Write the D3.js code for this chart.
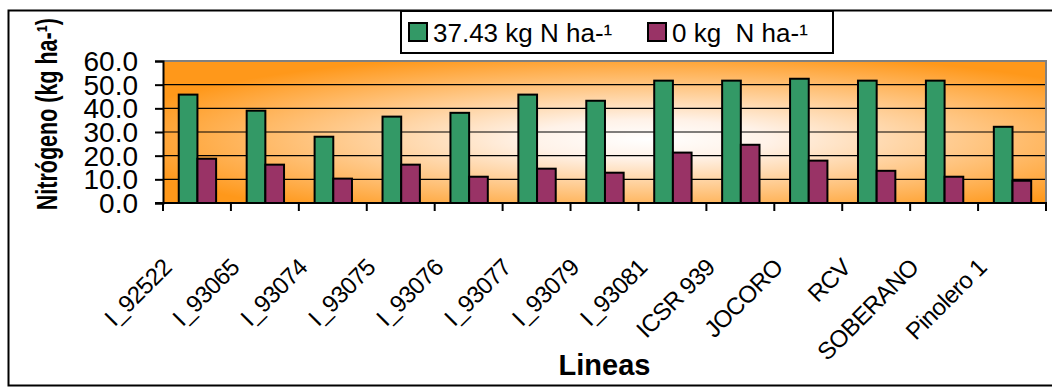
<!DOCTYPE html>
<html>
<head>
<meta charset="utf-8">
<script src="https://cdn.jsdelivr.net/npm/d3@7"></script>
<style>
  body { margin: 0; background: #fff; }
  svg { font-family: "Liberation Sans", Arial, sans-serif; }
</style>
</head>
<body>
<script>
const categories = ["I_92522", "I_93065", "I_93074", "I_93075", "I_93076", "I_93077", "I_93079",
  "I_93081", "ICSR 939", "JOCORO", "RCV", "SOBERANO", "Pinolero 1"];
const seriesNames = ["37.43 kg N ha-¹", "0 kg  N ha-¹"];
const withN = [45.8, 39.0, 28.0, 36.5, 38.1, 45.8, 43.2, 51.7, 51.7, 52.5, 51.7, 51.7, 32.2];
const withoutN = [18.7, 16.2, 10.3, 16.2, 11.1, 14.5, 12.8, 21.3, 24.6, 17.9, 13.6, 11.1, 9.4];
const yTicks = [0, 10, 20, 30, 40, 50, 60];
const colors = ["#339966", "#993366"];

const width = 1052, height = 387;
const plotL = 163, plotR = 1046, plotT = 61, plotB = 203;

const svg = d3.select("body").append("svg").attr("width", width).attr("height", height);

// chart border
svg.append("rect")
  .attr("x", 8.5).attr("y", 10.5).attr("width", 1060).attr("height", 375)
  .attr("fill", "#fff").attr("stroke", "#000").attr("stroke-width", 2);

const x = d3.scaleBand().domain(categories).range([plotL, plotR]);
const bw = x.bandwidth();
const xs = d3.scaleBand().domain([0, 1]).range([bw * 0.232, bw * 0.782]);
const y = d3.scaleLinear().domain([0, 60]).range([plotB, plotT]);

// gradient background
const defs = svg.append("defs");
const grad = defs.append("radialGradient").attr("id", "bg")
  .attr("cx", 0.55).attr("cy", 0.55).attr("r", 0.62);
grad.append("stop").attr("offset", "0%").attr("stop-color", "#ffffff");
grad.append("stop").attr("offset", "22%").attr("stop-color", "#fff2e8");
grad.append("stop").attr("offset", "100%").attr("stop-color", "#ff981a");

svg.append("rect")
  .attr("x", plotL).attr("y", plotT).attr("width", plotR - plotL).attr("height", plotB - plotT)
  .attr("fill", "url(#bg)");

// gridlines
svg.append("g").selectAll("line").data(yTicks.filter(d => d > 0 && d < 60)).join("line")
  .attr("x1", plotL).attr("x2", plotR)
  .attr("y1", d => y(d)).attr("y2", d => y(d))
  .attr("stroke", "#000").attr("stroke-width", 1.2);

// plot border top / right
svg.append("path")
  .attr("d", `M${plotL},${y(60)}H${plotR}V${plotB}`)
  .attr("fill", "none").attr("stroke", "#808080").attr("stroke-width", 2);

// bars
const data = categories.map((c, i) => ({ c, v: [withN[i], withoutN[i]] }));
const groups = svg.append("g").selectAll("g").data(data).join("g")
  .attr("transform", d => `translate(${x(d.c)},0)`);
groups.selectAll("rect").data(d => d.v.map((v, k) => ({ v, k }))).join("rect")
  .attr("x", d => xs(d.k)).attr("width", xs.bandwidth())
  .attr("y", d => y(d.v)).attr("height", d => y(0) - y(d.v))
  .attr("fill", d => colors[d.k]).attr("stroke", "#000").attr("stroke-width", 2);

// y axis
const yAxis = svg.append("g").attr("transform", `translate(${plotL},0)`)
  .call(d3.axisLeft(y).tickValues(yTicks).tickFormat(d3.format(".1f")).tickSize(8).tickPadding(17));
yAxis.select(".domain").attr("stroke-width", 2);
yAxis.selectAll(".tick line").attr("stroke-width", 2);
yAxis.selectAll("text").attr("font-size", 28).attr("fill", "#000").attr("dy", "0.34em")
  .attr("font-family", "Liberation Sans, Arial, sans-serif");

// x axis
svg.append("line").attr("x1", plotL - 8).attr("x2", plotR + 1)
  .attr("y1", plotB).attr("y2", plotB).attr("stroke", "#000").attr("stroke-width", 2);
svg.append("g").selectAll("line").data(categories.map(c => x(c)).concat([plotR])).join("line")
  .attr("x1", d => d).attr("x2", d => d)
  .attr("y1", plotB).attr("y2", plotB + 8)
  .attr("stroke", "#000").attr("stroke-width", 2);

svg.append("g").selectAll("text").data(categories).join("text")
  .attr("transform", d => `translate(${x(d) + bw / 2 - 24},${plotB + 66}) rotate(-45)`)
  .attr("text-anchor", "end")
  .attr("font-size", 24).attr("letter-spacing", -0.6)
  .text(d => d);

// axis titles
svg.append("text")
  .attr("x", (plotL + plotR) / 2).attr("y", 375)
  .attr("text-anchor", "middle").attr("font-size", 29).attr("font-weight", "bold")
  .text("Lineas");

svg.append("text")
  .attr("transform", "translate(57,18) scale(1.35,1) rotate(-90)")
  .attr("text-anchor", "end").attr("font-size", 21.5).attr("font-weight", "bold")
  .text("Nitrógeno (kg ha-¹)");

// legend
const lg = svg.append("g");
lg.append("rect").attr("x", 401).attr("y", 11).attr("width", 432).attr("height", 42)
  .attr("fill", "#fff").attr("stroke", "#000").attr("stroke-width", 2);
const legendX = [409, 648];
seriesNames.forEach((s, k) => {
  lg.append("rect").attr("x", legendX[k]).attr("y", 23).attr("width", 18).attr("height", 18)
    .attr("fill", colors[k]).attr("stroke", "#000").attr("stroke-width", 2);
  lg.append("text").attr("x", legendX[k] + 24).attr("y", 42)
    .attr("font-size", 26).style("white-space", "pre")
    .text(s);
});
</script>
</body>
</html>
